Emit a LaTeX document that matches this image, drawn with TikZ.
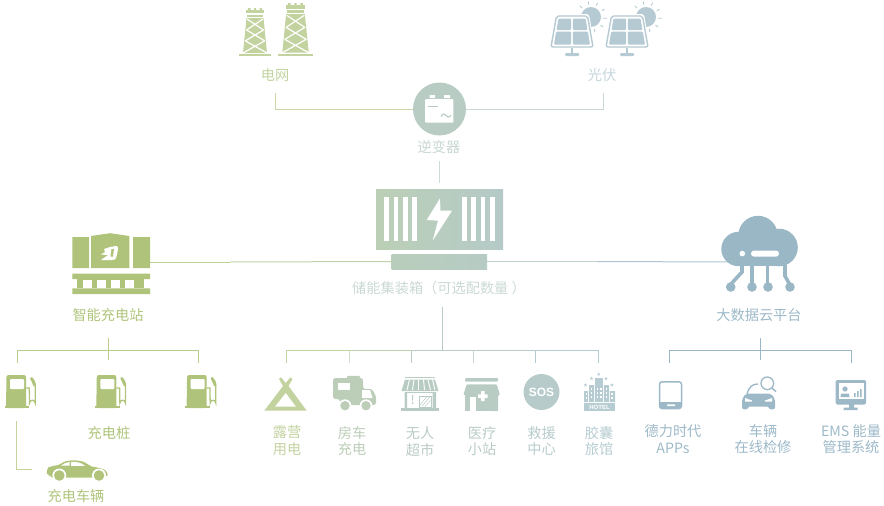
\documentclass[tikz,border=0pt]{standalone}
\usepackage{fontspec}
\setmainfont{Noto Sans CJK SC}
\newfontfamily\latinbold{Liberation Sans}
\usetikzlibrary{calc}
\definecolor{gridc}{HTML}{C3D3A0}
\definecolor{solarc}{HTML}{B5CAD3}
\definecolor{invc}{HTML}{B9CCC4}
\definecolor{stc}{HTML}{AFC47A}
\definecolor{cloudc}{HTML}{9AB7C6}
\definecolor{iconb}{HTML}{9DB9C8}
\definecolor{rvc}{HTML}{BCCDB8}
\definecolor{sosc}{HTML}{B8CBCB}
\definecolor{hotc}{HTML}{B7CCD2}
\definecolor{contl}{HTML}{BBCFB6}
\definecolor{contr}{HTML}{B5CAC8}
\tikzset{
  lbl/.style={inner sep=0pt,outer sep=0pt,align=center,font=\fontsize{14.2}{16.8}\selectfont},
  spot/.style={inner sep=0pt,outer sep=0pt,minimum width=#1,minimum height=1pt},
  conn/.style={line width=1pt},
}
\newcommand{\towerpic}{%
  \fill[gridc] (-16,-2) rectangle (16,0);
  \fill[gridc] (-12,-3) -- (12,-3) -- (8.5,-38) -- (-8.5,-38) -- cycle;
  \draw[white,line width=1.2pt] (-12,-3)--(9.5,-15) (12,-3)--(-9.5,-15) (-10,-15)--(8.5,-26) (10,-15)--(-8.5,-26) (-8.5,-26)--(8,-37) (8.5,-26)--(-8,-37);
  \fill[gridc] (-9,-46) rectangle (9,-43);
  \fill[gridc] (-8,-41.5) rectangle (8,-39.5);
  \fill[gridc] (-7,-48) rectangle (-4.5,-46) (4.5,-48) rectangle (7,-46) (-1,-48) rectangle (1,-46);
}
\newcommand{\solarpic}{%
  \fill[solarc] (19,-39) circle (10);
  \foreach \a in {-100,-65,-30,5,40,75}{\draw[solarc,line width=.9pt] (19,-39) ++(\a:12.5) -- ++(\a:3.2);}
  \draw[solarc,line width=.9pt] (19,-39) ++(-135:12.5) -- ++(-135:3.2);
  \fill[white,rounded corners=2pt] (-17,-42) -- (17,-42) -- (23,-7) -- (-23,-7) -- cycle;
  \draw[solarc,line width=1.4pt,rounded corners=2pt] (-15.5,-40) -- (15.5,-40) -- (21,-9) -- (-21,-9) -- cycle;
  \fill[solarc,rounded corners=1pt] (-13.5,-37.5) -- (-.8,-37.5) -- (-.8,-26) -- (-15.5,-26) -- cycle;
  \fill[solarc,rounded corners=1pt] (.8,-37.5) -- (13.5,-37.5) -- (15.5,-26) -- (.8,-26) -- cycle;
  \fill[solarc,rounded corners=1pt] (-15.8,-24.4) -- (-.8,-24.4) -- (-.8,-11.5) -- (-18,-11.5) -- cycle;
  \fill[solarc,rounded corners=1pt] (.8,-24.4) -- (15.8,-24.4) -- (18,-11.5) -- (.8,-11.5) -- cycle;
  \fill[solarc] (-1.2,-8) rectangle (1.2,-3);
  \fill[solarc,rounded corners=1pt] (-7,-3) rectangle (7,0);
}
\newcommand{\pumppic}{%
  \fill[stc,rounded corners=2pt] (6,408) -- (6.5,375) -- (26,375) -- (26,408) -- cycle;
  \fill[stc] (4.5,405.8) rectangle (29.2,408);
  \fill[white,rounded corners=1pt] (10,379) rectangle (24,389);
  \draw[stc,line width=1.3pt] (26,388) -- (29.3,388) -- (29.6,403) arc[start angle=180,end angle=360,radius=2.8] -- (35.2,384) -- (31,379);
  \fill[stc] (30,378) -- (32,377) -- (35,381) -- (35.7,386) -- (33.5,386) -- cycle;
}
\begin{document}
\begin{tikzpicture}[x=1pt,y=-1pt]
\useasboundingbox (0,0) rectangle (884,506);
% ---- anchors and main nodes
\node[spot=1pt] (gridfoot) at (275.5,93) {};
\node[spot=1pt] (solarfoot) at (603,93) {};
\node[circle,fill=invc,minimum size=53pt,inner sep=0pt,outer sep=0pt] (inverter) at (439.5,109) {};
\node[spot=1pt] (invout) at (439,161) {};
\node[spot=1pt] (contin) at (439,183) {};
\node[inner sep=0pt,outer sep=0pt,minimum width=127pt,minimum height=60pt,left color=contl,right color=contr] (container) at (439.5,219) {};
\node[inner sep=0pt,outer sep=0pt,minimum width=95.5pt,minimum height=15pt,left color=contl!70!contr,right color=contr!80!contl] (base) at (439.3,261.5) {};
\node[inner sep=0pt,outer sep=0pt,minimum width=78pt,minimum height=4pt] (station) at (111,262) {};
\node[inner sep=0pt,outer sep=0pt,minimum width=8pt,minimum height=4pt] (cloudport) at (729,262) {};
% ---- connectors
\draw[conn,color=gridc!90!white] (gridfoot.center) |- (inverter.west);
\draw[conn,color=invc!75!white] (solarfoot.center) |- (inverter.east);
\draw[conn,color=invc!70!white] (invout.center) -- (contin.center);
\draw[conn,color=stc!80!white] (station.east) -- ++(80,0) coordinate (mida);
\draw[conn,color=gridc!80!invc] (mida) -- (base.west);
\draw[conn,color=invc!90!white] (base.east) -- ++(110,0) coordinate (midb);
\draw[conn,color=cloudc!80!white] (midb) -- (cloudport.center);
% storage tree
\node[spot=1pt] (sttop) at (442.5,307) {};
\node[spot=1pt] (stjoin) at (442.5,350.5) {};
\foreach \n/\x in {a/286,b/349,c/411.5,d/473,e/535,f/598.7}{
  \node[spot=1pt] (drop\n) at (\x,363) {};
  \node[spot=1pt] (top\n) at (\x,350.5) {};
}
\draw[conn,color=invc] (sttop.center) -- (stjoin.center);
\draw[conn,color=gridc] (topa.center) -- (topb.center);
\draw[conn,color=gridc!60!invc] (topb.center) -- (topc.center);
\draw[conn,color=invc] (topc.center) -- (topd.center);
\draw[conn,color=invc!70!solarc] (topd.center) -- (tope.center);
\draw[conn,color=solarc] (tope.center) -- (topf.center);
\draw[conn,color=gridc] (topa.center) -- (dropa.center);
\draw[conn,color=gridc!50!invc!70!white] (topb.center) -- (dropb.center);
\draw[conn,color=invc] (topc.center) -- (dropc.center);
\draw[conn,color=invc!80!white] (topd.center) -- (dropd.center);
\draw[conn,color=solarc] (tope.center) -- (drope.center);
\draw[conn,color=solarc] (topf.center) -- (dropf.center);
% charging tree
\node[spot=1pt] (chtop) at (108,338) {};
\node[spot=1pt] (chmid) at (108,360) {};
\node[spot=1pt] (chl) at (17.5,363) {};
\node[spot=1pt] (chr) at (198.5,363) {};
\draw[conn,color=stc!85!white] (chtop.center) -- (chmid.center);
\draw[conn,color=stc!85!white] (chl.center) |- (108,350.5) -| (chr.center);
\node[spot=1pt] (carfrom) at (16.5,421) {};
\node[spot=1pt] (carto) at (32,469.5) {};
\draw[conn,color=stc!75!white] (carfrom.center) |- (carto.center);
% cloud tree
\node[spot=1pt] (cltop) at (760,338) {};
\node[spot=1pt] (clmid) at (760,360) {};
\node[spot=1pt] (cll) at (669.5,363) {};
\node[spot=1pt] (clr) at (851,363) {};
\draw[conn,color=cloudc] (cltop.center) -- (clmid.center);
\draw[conn,color=cloudc] (cll.center) |- (760,350.5) -| (clr.center);
% ---- towers
\begin{scope}[shift={(255,56)}]\towerpic\end{scope}
\begin{scope}[shift={(295.5,56)},scale=1.1]\towerpic\end{scope}
% ---- solar
\begin{scope}[shift={(572,56)}]\solarpic\end{scope}
\begin{scope}[shift={(627,56)}]\solarpic\end{scope}
% ---- inverter icon
\fill[white,rounded corners=1pt] (425,99) rectangle (453.3,122.7);
\fill[white] (429.5,95) rectangle (435,98) (444,95) rectangle (450,98);
\fill[invc] (428.3,105.5) rectangle (437.7,107);
\draw[invc,line width=1.1pt] (441,116.5) .. controls (443,113) and (445,113.5) .. (446,115.5) .. controls (447,117.5) and (449,118) .. (451,115);
% ---- container decoration
\foreach \x in {384,393.5,403,412.3,462,471.3,480.7,490}{\fill[white] (\x,197) rectangle (\x+4.7,241);}
\fill[white] (440,198.3) -- (426.7,220) -- (438,220.7) -- (432.7,240.7) -- (452,210.7) -- (440.5,210.7) -- cycle;
% ---- station
\fill[stc] (72.3,237) rectangle (89,268) (133,237) rectangle (150,268);
\fill[stc] (91,236) -- (110,233.2) -- (129.3,236) -- (129.3,268) -- (91,268) -- cycle;
\fill[white] (104,249) -- (110,247) -- (116,246) .. controls (119,246) and (118,250) .. (117.5,252) -- (116,258) .. controls (115.5,259.5) and (114,260) .. (112,260) -- (101,260) -- (108,255) -- (101,254.5) -- (105,252) -- cycle;
\fill[stc] (111.5,249) -- (114,249) -- (113,256.5) -- (110.5,256.5) -- cycle;
\fill[stc] (72.3,273.7) rectangle (150,279) (72.3,288.3) rectangle (150,294);
\fill[stc] (77.3,279) rectangle (144.3,288.3);
\foreach \x in {82.7,96.8,110.8,125}{\fill[white] (\x,279.6) rectangle (\x+9,287.8);}
% ---- cloud
\fill[cloudc] (738.5,249) circle (17.2) (758,235.5) circle (19.7) (779,247.5) circle (18.8);
\fill[cloudc] (738,240) rectangle (779,266.3);
\fill[white] (742.3,253.6) circle (2.8);
\fill[white,rounded corners=3pt] (751,250.6) rectangle (779,256.7);
\begin{scope}[cloudc,line width=3.6pt]
\draw (742,265) -- (742,272) -- (731,284);
\draw (752,265) -- (752,285);
\draw (767.5,265) -- (767.5,285);
\draw (785,265) -- (785,276) -- (790,285);
\end{scope}
\fill[cloudc] (730.7,287) circle (4.8) (752,287) circle (4.8) (768,287) circle (4.8) (790,287) circle (4.8);
% ---- pumps
\begin{scope}\pumppic\end{scope}
\begin{scope}[xshift=90.3pt]\pumppic\end{scope}
\begin{scope}[xshift=180.6pt]\pumppic\end{scope}
% ---- car
\fill[stc] (46.7,473.5) .. controls (47,470) and (47.5,468) .. (48.5,467.3) .. controls (52,466) and (55,465.6) .. (58.3,465) .. controls (62,463) and (65,461) .. (69,460.6) .. controls (75,460) and (79,460.5) .. (83.3,461.7) -- (91.7,466.5) .. controls (98,467.5) and (103,468.5) .. (105.5,470.5) .. controls (107,472) and (107.8,474) .. (107.7,475.5) -- (103,477.5) -- (52,477.5) -- cycle;
\fill[white] (61,465.6) .. controls (64,463.5) and (66,462.5) .. (69.5,462) -- (69.7,465.6) -- cycle (71,462) .. controls (77,461.6) and (81,462.5) .. (85,465.8) -- (71,465.8) -- cycle;
\fill[white] (59.3,475.5) circle (7) (99,475.5) circle (7);
\fill[stc] (59.3,475.5) circle (5.3) (99,475.5) circle (5.3);
% ---- tent
\fill[gridc] (264.3,410.7) -- (283,386) -- (279,379) -- (281,377.3) -- (285.7,383) -- (290.5,377.3) -- (292.5,379) -- (288.5,386) -- (306.7,410.7) -- cycle;
\fill[white] (275,406.7) -- (285.7,393) -- (296,406.7) -- cycle;
% ---- RV
\fill[rvc,rounded corners=2.5pt] (333,378) -- (363,378) -- (363,389) -- (372,389) -- (376,396) -- (376,405) -- (340,405) -- (340,399) -- (333,399) -- cycle;
\fill[rvc,rounded corners=1pt] (347,375.8) rectangle (360,379);
\fill[white] (338,383) rectangle (350,390);
\fill[white] (362,390) -- (370,390) -- (372.5,398) -- (362,398) -- cycle;
\fill[white] (345,405.7) circle (6.4) (366,405.7) circle (6.4);
\fill[rvc] (345,405.7) circle (4.7) (366,405.7) circle (4.7);
% ---- shop
\fill[invc] (405,376.7) rectangle (435,378.2);
\fill[invc] (405,379.5) -- (435,379.5) -- (438.5,391) -- (401.5,391) -- cycle;
\foreach \t/\b in {409.5/407,414/412.5,418.5/418.5,423.5/424.5,428/430.5,432.5/435}{\draw[white,line width=.9pt] (\t,379.5) -- (\b,390);}
\fill[invc] (404.5,392) rectangle (407,408) (432.5,392) rectangle (436,408);
\fill[invc] (401,408.3) rectangle (439,410.7);
\fill[invc] (407,392) rectangle (432.5,393.4);
\fill[invc] (412,395) rectangle (413,400.5) (412,402) rectangle (413,404);
\draw[invc,line width=.6pt] (419,396) rectangle (431,407);
\draw[invc,line width=.5pt] (420,405) -- (427,396.5) (422,406) -- (430,397) (425,406.5) -- (430.5,400.5);
% ---- clinic
\fill[invc,rounded corners=1pt] (465,378) rectangle (498,381.7);
\fill[invc,rounded corners=1pt] (466.7,384.3) -- (496.7,384.3) -- (500,395) -- (498,395) -- (498,411) -- (490,411) -- (490,398) -- (476,398) -- (476,395) -- (463.3,395) -- cycle;
\fill[invc] (465,395) rectangle (470,411);
\fill[invc] (476,396) rectangle (490,402);
\fill[invc] (470,395) rectangle (476,397);
\fill[white] (470,397) rectangle (476,411);
\fill[invc] (476,401) rectangle (498,411);
\fill[white] (481,391.2) rectangle (484.5,401) (478,394.4) rectangle (487.5,397.8);
% ---- SOS
\node[circle,fill=sosc,minimum size=36pt,inner sep=0pt,text=white,font=\latinbold\bfseries\fontsize{12}{12}\selectfont] (sos) at (541.5,392) {SOS};
% ---- hotel
\foreach \x/\y in {598.7/374.2,591.5/378.5,606/378.5,585.5/385,612/385}{\fill[hotc] (\x,\y) +(-90:1.9) -- +(54:1.9) -- +(198:1.9) -- +(-18:1.9) -- +(126:1.9) -- cycle;}
\fill[hotc] (595,378) rectangle (603,402);
\fill[hotc] (589,385) rectangle (594.2,402) (603.8,385) rectangle (609,402);
\fill[hotc] (584,391) rectangle (588.2,402) (609.8,391) rectangle (615,402);
\foreach \x in {590.5,596.5,600,605.5}{\foreach \y in {388,392,396}{\fill[white] (\x,\y) rectangle +(1.6,1.8);}}
\foreach \x in {585.5,611}{\foreach \y in {393,397}{\fill[white] (\x,\y) rectangle +(1.8,1.8);}}
\fill[hotc] (584,403) rectangle (615,410.8);
\node[inner sep=0pt,text=white,font=\latinbold\bfseries\fontsize{6}{6}\selectfont] (hoteltxt) at (599.5,407) {HOTEL};
% ---- tablet
\draw[iconb,line width=1.5pt,rounded corners=2.5pt] (659.5,381.8) rectangle (681.5,408.5);
\fill[iconb] (660,402) rectangle (681,408);
\fill[white,rounded corners=.5pt] (667,404.4) rectangle (675,406);
% ---- car front + magnifier
\draw[iconb,line width=1.4pt] (747,394) .. controls (749,387) and (752,384) .. (758,384);
\fill[iconb,rounded corners=2pt] (742,409.3) -- (742,399) -- (746,393.5) -- (771,393.5) -- (775,399) -- (775,409.3) -- (769,409.3) -- (769,406.5) -- (748,406.5) -- (748,409.3) -- cycle;
\fill[white] (745,398) -- (752,400.5) -- (752,401.5) -- (745,401.5) -- cycle (772,398) -- (765,400.5) -- (765,401.5) -- (772,401.5) -- cycle;
\fill[white] (767.3,383.3) circle (8);
\draw[iconb,line width=1.3pt] (767.3,383.3) circle (6.3);
\draw[iconb,line width=1.5pt] (771.8,387.8) -- (776,391.6);
% ---- monitor
\fill[iconb,rounded corners=1.5pt] (835.7,380) rectangle (866,404.5);
\fill[white] (838.5,383) rectangle (863.5,398.5);
\fill[iconb] (849,404) rectangle (854,408) (843.5,407.7) rectangle (857.5,410);
\fill[iconb] (845,389) circle (2.6);
\fill[iconb] (840.5,397) -- (841,393.5) -- (849,393.5) -- (849.5,397) -- cycle;
\fill[iconb] (854,393) rectangle (855.6,397) (857,391) rectangle (858.6,397) (860,389) rectangle (861.6,397);
% ---- labels
\node[lbl,text=gridc] (tgrid) at (275,75) {电网};
\node[lbl,text=solarc!80!white] (tsolar) at (602,75) {光伏};
\node[lbl,text=invc!80!white] (tinv) at (439,147) {逆变器};
\node[lbl,text=invc!75!white] (tstore) at (439,288) {储能集装箱（可选配数量 ）};
\node[lbl,text=stc] (tstation) at (108,315) {智能充电站};
\node[lbl,text=iconb] (tcloud) at (759,315) {大数据云平台};
\node[lbl,text=stc] (tpile) at (109,433) {充电桩};
\node[lbl,text=stc] (tcar) at (76,496) {充电车辆};
\node[lbl,text=gridc] (t1) at (287,441) {露营\\用电};
\node[lbl,text=rvc] (t2) at (352,441) {房车\\充电};
\node[lbl,text=invc] (t3) at (420,441.5) {无人\\超市};
\node[lbl,text=invc] (t4) at (482,441) {医疗\\小站};
\node[lbl,text=sosc] (t5) at (541.5,441) {救援\\中心};
\node[lbl,text=hotc] (t6) at (599,441) {胶囊\\旅馆};
\node[lbl,text=iconb] (t7) at (673,439.5) {德力时代\\APPs};
\node[lbl,text=iconb] (t8) at (763,439) {车辆\\在线检修};
\node[lbl,text=iconb] (t9) at (851,439) {EMS 能量\\管理系统};
\end{tikzpicture}
\end{document}
